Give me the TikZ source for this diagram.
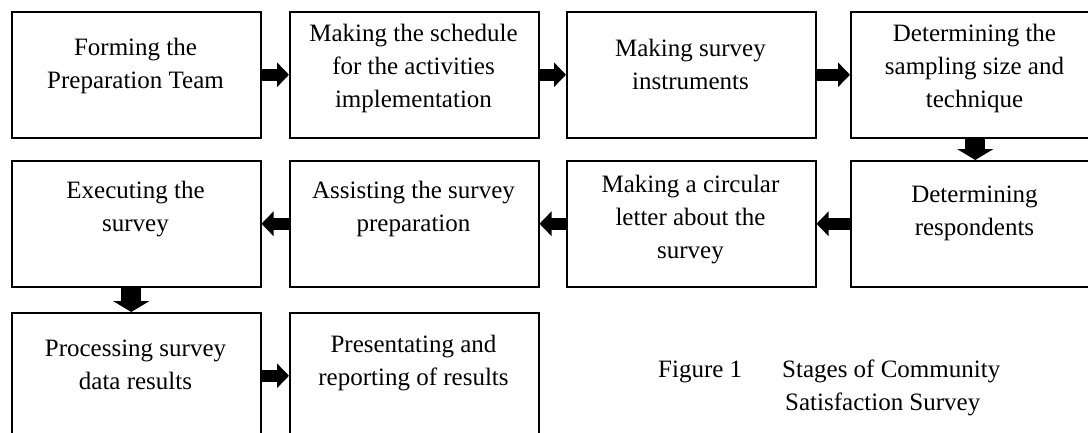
\documentclass[tikz,border=0pt]{standalone}
\usepackage{fontspec}
\setmainfont{Liberation Serif}
\usetikzlibrary{arrows.meta}
\begin{document}
\begin{tikzpicture}[x=1pt,y=-1pt,
  stagebox/.style={draw, line width=1.5pt, minimum width=249pt, minimum height=126pt, inner sep=0pt, anchor=north west},
  txt/.style={font=\fontsize{25}{33}\selectfont, align=center, inner sep=0pt},
  captxt/.style={font=\fontsize{25}{33}\selectfont, align=left, inner sep=0pt},
  harr/.style={line width=12pt, -{Triangle[width=24pt,length=12pt]}},
  varr/.style={line width=20pt, -{Triangle[width=36pt,length=11pt]}}]
\useasboundingbox (0,0) rectangle (1088,432);
\clip (0,0) rectangle (1088,432);
% row 1
\node[stagebox] (b1) at (11,11) {};
\node[stagebox] (b2) at (289,11) {};
\node[stagebox] (b3) at (566,11) {};
\node[stagebox] (b4) at (850,11) {};
% row 2
\node[stagebox] (b5) at (11,160) {};
\node[stagebox] (b6) at (289,160) {};
\node[stagebox] (b7) at (566,160) {};
\node[stagebox] (b8) at (850,160) {};
% row 3
\node[stagebox] (b9) at (11,312) {};
\node[stagebox] (b10) at (289,312) {};
% texts
\node[txt] (t1) at (135.5,66) {Forming the\\Preparation Team};
\node[txt] (t2) at (413.5,68) {Making the schedule\\for the activities\\implementation};
\node[txt] (t3) at (690.5,64) {Making survey\\instruments};
\node[txt] (t4) at (974.5,68) {Determining the\\sampling size and\\technique};
\node[txt] (t5) at (135.5,209) {Executing the\\survey};
\node[txt] (t6) at (413.5,209) {Assisting the survey\\preparation};
\node[txt] (t7) at (690.5,220) {Making a circular\\letter about the\\survey};
\node[txt] (t8) at (974.5,213) {Determining\\respondents};
\node[txt] (t9) at (135.5,365) {Processing survey\\data results};
\node[txt] (t10) at (413.5,363) {Presentating and\\reporting of results};
% caption
\node[captxt, anchor=base west] (fig) at (658,377) {Figure 1};
\node[captxt, anchor=west] (capt) at (782,388) {Stages of Community\\\hspace{3pt}Satisfaction Survey};
% arrows
\draw[harr] (b1.east) -- (b2.west);
\draw[harr] (b2.east) -- (b3.west);
\draw[harr] (b3.east) -- (b4.west);
\draw[varr] (b4.south) -- (b8.north);
\draw[harr] (b8.west) -- (b7.east);
\draw[harr] (b7.west) -- (b6.east);
\draw[harr] (b6.west) -- (b5.east);
\draw[varr] ([xshift=-5pt]b5.south) -- ([xshift=-5pt]b9.north);
\draw[harr] (b9.east) -- (b10.west);
\end{tikzpicture}
\end{document}
